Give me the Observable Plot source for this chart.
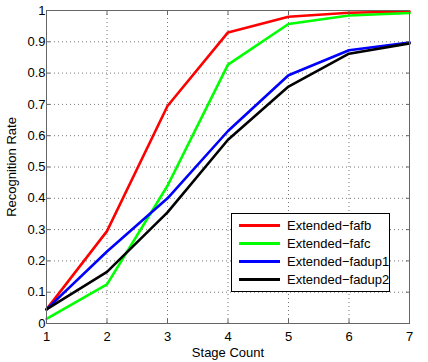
<!DOCTYPE html>
<html><head><meta charset="utf-8">
<script src="https://cdn.jsdelivr.net/npm/d3@7"></script>
<script src="https://cdn.jsdelivr.net/npm/@observablehq/plot@0.6"></script>
<style>
body{margin:0;background:#fff;font-family:"Liberation Sans",Arial,sans-serif;}
#wrap{position:relative;width:428px;height:362px;}
#legend{position:absolute;left:231px;top:213px;width:159px;height:79px;border:1px solid #000;background:#fff;box-sizing:border-box;font-size:13px;}
.row{position:absolute;left:0;height:18px;display:flex;align-items:center;}
.sw{width:41px;height:3px;margin-left:7px;margin-right:7px;}
</style></head><body>
<div id="wrap"></div>
<script>
const stages = [1,2,3,4,5,6,7];
const seriesNames = ["Extended\u2212fafb","Extended\u2212fafc","Extended\u2212fadup1","Extended\u2212fadup2"];
const seriesColors = ["#ff0000","#00ff00","#0000ff","#000000"];
const fafb   = [0.045,0.295,0.695,0.93,0.98,0.993,0.997];
const fafc   = [0.015,0.125,0.44,0.827,0.957,0.984,0.992];
const fadup1 = [0.045,0.23,0.40,0.615,0.793,0.873,0.898];
const fadup2 = [0.045,0.165,0.355,0.587,0.757,0.862,0.895];
const xTicks = [1,2,3,4,5,6,7];
const yTicks = [0,0.1,0.2,0.3,0.4,0.5,0.6,0.7,0.8,0.9,1];
const yTickLabels = ["0","0.1","0.2","0.3","0.4","0.5","0.6","0.7","0.8","0.9","1"];

const all = [fafb,fafc,fadup1,fadup2];
const data = [];
all.forEach((vals,si)=>vals.forEach((v,i)=>data.push({series:seriesNames[si],x:stages[i],y:v})));

const chart = Plot.plot({
  width:428, height:362,
  marginLeft:46, marginRight:19, marginTop:10, marginBottom:39,
  style:{fontFamily:"Liberation Sans, Arial, sans-serif", fontSize:"13px", color:"#000", background:"#fff"},
  x:{domain:[1,7]},
  y:{domain:[0,1]},
  color:{domain:seriesNames, range:seriesColors},
  marks:[
    Plot.gridX(xTicks,{stroke:"#777",strokeOpacity:1,strokeDasharray:"1,3"}),
    Plot.gridY(yTicks,{stroke:"#777",strokeOpacity:1,strokeDasharray:"1,3"}),
    Plot.lineY(data,{x:"x",y:"y",z:"series",stroke:"series",strokeWidth:2.6,strokeLinejoin:"miter"}),
    Plot.frame({stroke:"#666",strokeWidth:1}),
    Plot.axisX(xTicks,{anchor:"bottom",tickSize:-4,stroke:"#666",tickPadding:12,fill:"#000",fontSize:13,label:"Stage Count",labelAnchor:"center",labelArrow:"none",labelOffset:33}),
    Plot.axisX(xTicks,{anchor:"top",tickSize:-4,stroke:"#666",text:null,label:null}),
    Plot.axisY(yTicks,{anchor:"left",tickSize:-4,stroke:"#666",tickPadding:5,fill:"#000",fontSize:13,tickFormat:(d,i)=>yTickLabels[i],label:"Recognition Rate",labelAnchor:"center",labelArrow:"none",labelOffset:40}),
    Plot.axisY(yTicks,{anchor:"right",tickSize:-4,stroke:"#666",text:null,label:null})
  ]
});
const wrap = document.getElementById("wrap");
wrap.appendChild(chart);
const leg = document.createElement("div");
leg.id="legend";
seriesNames.forEach((n,i)=>{
  const r=document.createElement("div");r.className="row";r.style.top=(2+i*18)+"px";
  const s=document.createElement("div");s.className="sw";s.style.background=seriesColors[i];
  const t=document.createElement("span");t.textContent=n;
  r.appendChild(s);r.appendChild(t);leg.appendChild(r);
});
wrap.appendChild(leg);
</script>
</body></html>
